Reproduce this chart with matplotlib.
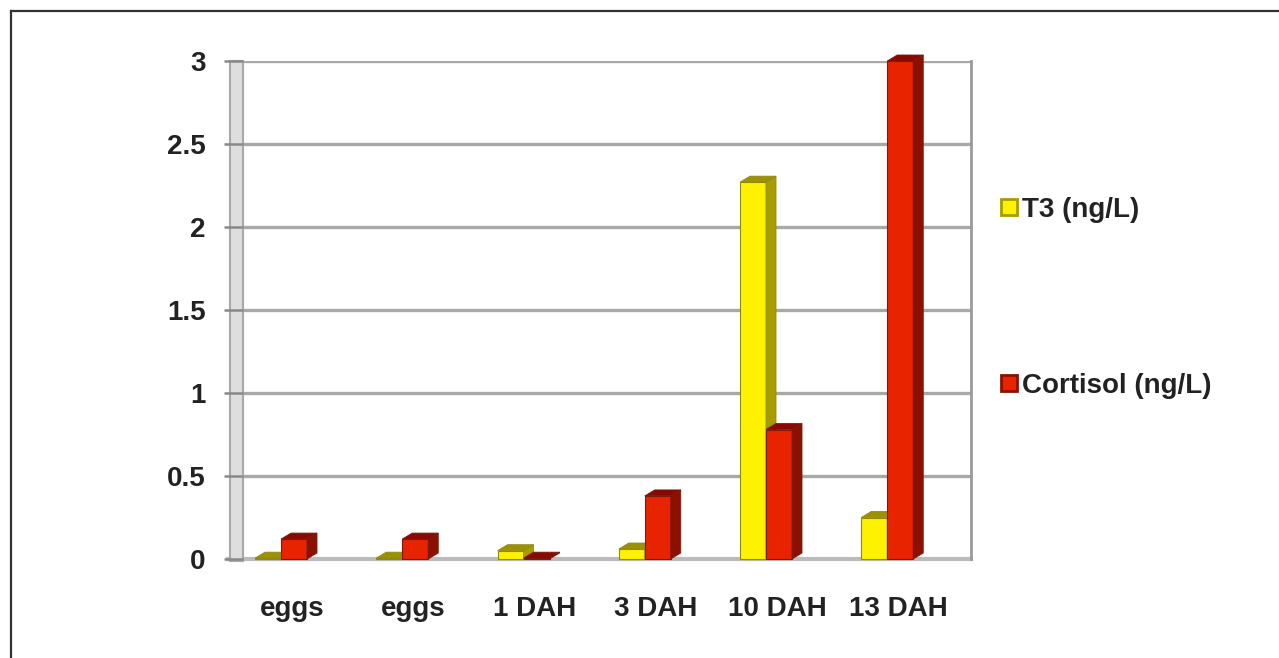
import matplotlib
matplotlib.use("Agg")
from matplotlib import pyplot as plt
from matplotlib.patches import Polygon, Rectangle
from matplotlib.lines import Line2D

# Hormone levels by developmental stage
stages = ["eggs", "eggs", "1 DAH", "3 DAH", "10 DAH", "13 DAH"]
t3 = [0.005, 0.005, 0.05, 0.06, 2.27, 0.25]
cortisol = [0.12, 0.12, 0.005, 0.38, 0.78, 3.0]
series_names = ["T3 (ng/L)", "Cortisol (ng/L)"]
y_ticks = [0, 0.5, 1, 1.5, 2, 2.5, 3]
y_tick_labels = ["0", "0.5", "1", "1.5", "2", "2.5", "3"]

W, H = 1279, 658
plt.rcParams['font.family'] = ['Liberation Sans', 'DejaVu Sans']
FS = 20

fig = plt.figure(figsize=(W / 100, H / 100), dpi=100)
fig.patch.set_facecolor("white")

# plot area (back wall) in pixels
left_px, right_px, top_px, bot_px = 243, 971, 61, 559
ax = fig.add_axes([left_px / W, 1 - bot_px / H,
                   (right_px - left_px) / W, (bot_px - top_px) / H])

group_px = 121.25
first_px = 281
x0 = (left_px - first_px) / group_px
x1 = (right_px - first_px) / group_px
ax.set_xlim(x0, x1)
ax.set_ylim(0, 3)

px_x = 1 / group_px            # data units per pixel, x
px_y = 3 / (bot_px - top_px)   # data units per pixel, y

# fake 3D depth
dx = 10 * px_x
dy = 6 * px_y
bw = 26 * px_x

for s in ["top", "left", "bottom"]:
    ax.spines[s].set_visible(False)
ax.spines["right"].set_color("#9a9a9a")
ax.spines["right"].set_linewidth(2)

# gridlines on back wall
for v in y_ticks:
    if v == 0:
        ax.axhline(v, color="#bbbbbb", lw=3, zorder=1, xmin=-0.02, clip_on=False)
    else:
        ax.axhline(v, color="#a8a8a8", lw=2.4, zorder=1)

# left side wall
wall = Rectangle((x0 - 13 * px_x, -2 * px_y), 13 * px_x, 3 + 2 * px_y,
                 facecolor="#dedede", edgecolor="#a8a8a8", lw=1.5,
                 clip_on=False, zorder=1)
ax.add_patch(wall)

ax.set_yticks(y_ticks)
ax.set_yticklabels(y_tick_labels, fontsize=FS, fontweight="bold", color="#222222")
ax.tick_params(axis="y", length=14, width=1.8, color="#888888", pad=13)
ax.set_xticks([])

colors = {
    "T3": ("#fff200", "#a89c00", "#9c9200", "#8f8a10"),
    "Cortisol": ("#e82400", "#8c1000", "#8a0800", "#7a1a10"),
}


def draw_bar(x, v, key, z):
    front, side, top, edge = colors[key]
    ax.add_patch(Rectangle((x, 0), bw, v, facecolor=front, edgecolor=edge,
                           lw=0.8, zorder=z, clip_on=False))
    ax.add_patch(Polygon([(x + bw, 0), (x + bw + dx, dy), (x + bw + dx, v + dy),
                          (x + bw, v)], closed=True, facecolor=side,
                         edgecolor=edge, lw=0.6, zorder=z, clip_on=False))
    ax.add_patch(Polygon([(x, v), (x + dx, v + dy), (x + bw + dx, v + dy),
                          (x + bw, v)], closed=True, facecolor=top,
                         edgecolor=edge, lw=0.6, zorder=z, clip_on=False))


for i in range(len(stages)):
    draw_bar(i - bw, t3[i], "T3", 3 + 2 * i)
    draw_bar(i, cortisol[i], "Cortisol", 4 + 2 * i)
    ax.text(i + 11 * px_x, -50 * px_y, stages[i], ha="center", va="center",
            fontsize=FS, fontweight="bold", color="#222222")

# legend
leg_y = [210, 386]
for (name, key), y in zip(zip(series_names, ["T3", "Cortisol"]), leg_y):
    fig.add_artist(Rectangle((1001 / W, 1 - (y + 5) / H), 16 / W, 16 / H,
                             facecolor=colors[key][0], edgecolor=colors[key][1],
                             lw=2, transform=fig.transFigure))
    fig.text(1022 / W, 1 - y / H, name, ha="left", va="center",
             fontsize=FS, fontweight="bold", color="#222222")

# outer frame
fig.add_artist(Line2D([11 / W, 1], [1 - 11 / H, 1 - 11 / H], color="#333333",
                      lw=1.6, transform=fig.transFigure))
fig.add_artist(Line2D([11 / W, 11 / W], [0, 1 - 11 / H], color="#333333",
                      lw=1.6, transform=fig.transFigure))

fig.savefig("out.png", dpi=100)
